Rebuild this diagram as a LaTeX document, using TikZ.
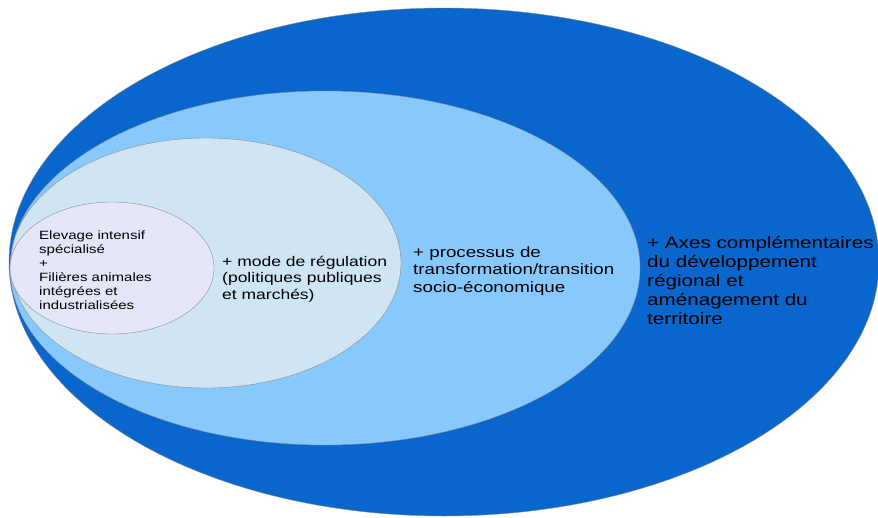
\documentclass[tikz,border=0pt]{standalone}
\usepackage{fontspec}
\setmainfont[FakeStretch=1.25]{Liberation Sans}
\usetikzlibrary{backgrounds}
\definecolor{bleufonce}{RGB}{8,102,204}
\definecolor{bleuclair}{RGB}{135,201,252}
\definecolor{bleupale}{RGB}{208,229,243}
\definecolor{lavande}{RGB}{230,230,250}
\tikzstyle{bord}=[draw=black!45, line width=0.4pt]
\tikzstyle{txt}=[anchor=west, align=left, inner sep=0pt, text=black]

\begin{document}
\begin{tikzpicture}[x=1pt,y=-1pt]
		\useasboundingbox (0,0) rectangle (878,517);
		\clip (0,0) rectangle (878,517);
		\node[txt, font=\fontsize{12}{14}\selectfont] (e1) at (39,270.5) {Elevage intensif\\spécialisé\\+\\Filières animales\\intégrées et\\industrialisées};
		\node[txt, font=\fontsize{14}{16.3}\selectfont] (e2) at (222,279) {+ mode de régulation\\(politiques publiques\\et marchés)};
		\node[txt, font=\fontsize{15}{17.5}\selectfont] (e3) at (413,271) {+ processus de\\transformation/transition\\socio-économique};
		\node[txt, font=\fontsize{16.5}{19}\selectfont] (e4) at (647,280) {+ Axes complémentaires\\du développement\\régional et\\aménagement du\\territoire};
		\begin{scope}[on background layer]
		\draw[bord, fill=bleufonce] (444,262) ellipse (435pt and 254pt);
		\draw[bord, fill=bleuclair] (325,268) ellipse (315pt and 177pt);
		\draw[bord, fill=bleupale] (206,263) ellipse (195pt and 125pt);
		\draw[bord, fill=lavande] (112,268) ellipse (102pt and 66pt);
		\end{scope}
\end{tikzpicture}
\end{document}
